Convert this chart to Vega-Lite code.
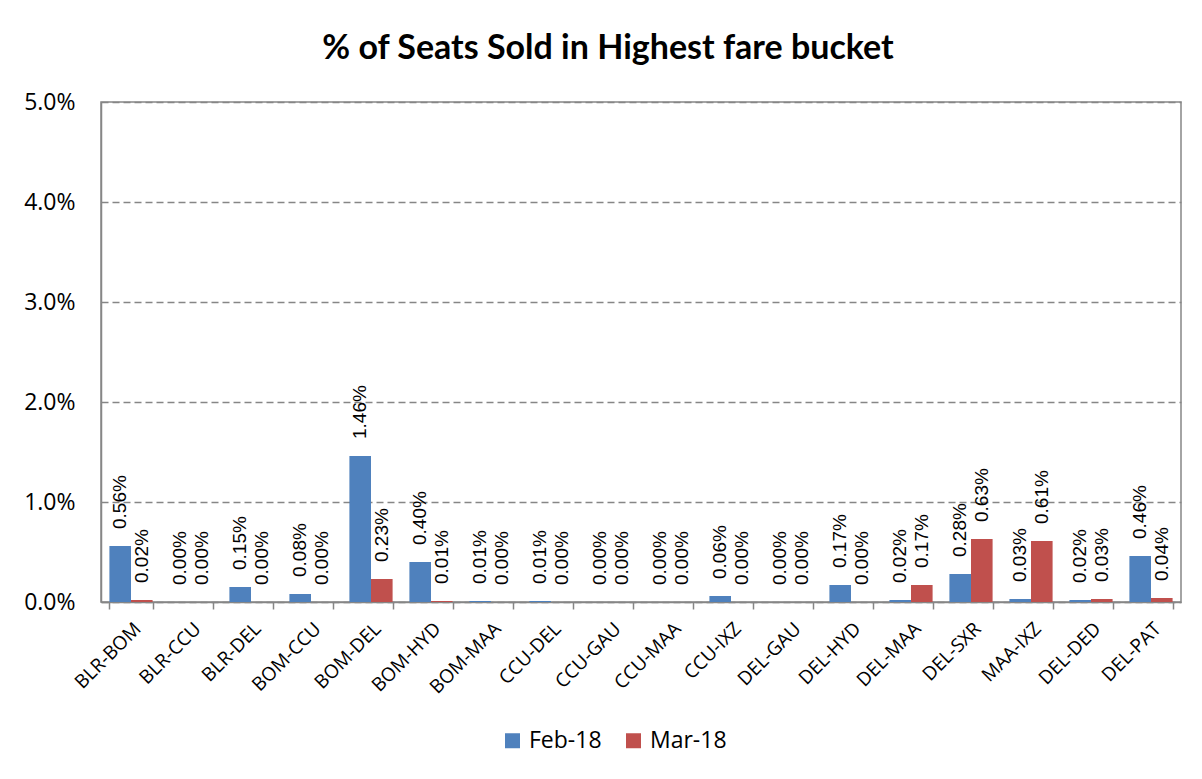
{
  "$schema": "https://vega.github.io/schema/vega-lite/v6.json",
  "autosize": {"type": "none"},
  "width": 1080,
  "height": 500,
  "padding": {"left": 101, "top": 102, "right": 21, "bottom": 177},
  "background": "white",
  "title": {
    "text": "% of Seats Sold in Highest fare bucket",
    "font": "Lato",
    "fontSize": 34,
    "fontWeight": "bold",
    "color": "#000000",
    "anchor": "middle",
    "dx": -33,
    "offset": 25
  },
  "data": {
    "values": [
      {"route": "BLR-BOM", "month": "Feb-18", "pct": 0.0056},
      {"route": "BLR-BOM", "month": "Mar-18", "pct": 0.0002},
      {"route": "BLR-CCU", "month": "Feb-18", "pct": 0.0},
      {"route": "BLR-CCU", "month": "Mar-18", "pct": 0.0},
      {"route": "BLR-DEL", "month": "Feb-18", "pct": 0.0015},
      {"route": "BLR-DEL", "month": "Mar-18", "pct": 0.0},
      {"route": "BOM-CCU", "month": "Feb-18", "pct": 0.0008},
      {"route": "BOM-CCU", "month": "Mar-18", "pct": 0.0},
      {"route": "BOM-DEL", "month": "Feb-18", "pct": 0.0146},
      {"route": "BOM-DEL", "month": "Mar-18", "pct": 0.0023},
      {"route": "BOM-HYD", "month": "Feb-18", "pct": 0.0040},
      {"route": "BOM-HYD", "month": "Mar-18", "pct": 0.0001},
      {"route": "BOM-MAA", "month": "Feb-18", "pct": 0.0001},
      {"route": "BOM-MAA", "month": "Mar-18", "pct": 0.0},
      {"route": "CCU-DEL", "month": "Feb-18", "pct": 0.0001},
      {"route": "CCU-DEL", "month": "Mar-18", "pct": 0.0},
      {"route": "CCU-GAU", "month": "Feb-18", "pct": 0.0},
      {"route": "CCU-GAU", "month": "Mar-18", "pct": 0.0},
      {"route": "CCU-MAA", "month": "Feb-18", "pct": 0.0},
      {"route": "CCU-MAA", "month": "Mar-18", "pct": 0.0},
      {"route": "CCU-IXZ", "month": "Feb-18", "pct": 0.0006},
      {"route": "CCU-IXZ", "month": "Mar-18", "pct": 0.0},
      {"route": "DEL-GAU", "month": "Feb-18", "pct": 0.0},
      {"route": "DEL-GAU", "month": "Mar-18", "pct": 0.0},
      {"route": "DEL-HYD", "month": "Feb-18", "pct": 0.0017},
      {"route": "DEL-HYD", "month": "Mar-18", "pct": 0.0},
      {"route": "DEL-MAA", "month": "Feb-18", "pct": 0.0002},
      {"route": "DEL-MAA", "month": "Mar-18", "pct": 0.0017},
      {"route": "DEL-SXR", "month": "Feb-18", "pct": 0.0028},
      {"route": "DEL-SXR", "month": "Mar-18", "pct": 0.0063},
      {"route": "MAA-IXZ", "month": "Feb-18", "pct": 0.0003},
      {"route": "MAA-IXZ", "month": "Mar-18", "pct": 0.0061},
      {"route": "DEL-DED", "month": "Feb-18", "pct": 0.0002},
      {"route": "DEL-DED", "month": "Mar-18", "pct": 0.0003},
      {"route": "DEL-PAT", "month": "Feb-18", "pct": 0.0046},
      {"route": "DEL-PAT", "month": "Mar-18", "pct": 0.0004}
    ]
  },
  "encoding": {
    "x": {
      "field": "route",
      "type": "nominal",
      "sort": null,
      "scale": {"paddingInner": 0.28, "paddingOuter": 0.14},
      "axis": {
        "title": null,
        "labelAngle": -45,
        "labelAlign": "right",
        "labelBaseline": "top",
        "labelPadding": 10,
        "labelFont": "Open Sans",
        "labelFontSize": 19,
        "labelColor": "#000000",
        "tickBand": "extent",
        "tickSize": 7,
        "tickColor": "#868686",
        "tickWidth": 1.5,
        "domainColor": "#868686",
        "domainWidth": 1.5,
        "grid": false
      }
    },
    "xOffset": {
      "field": "month",
      "type": "nominal",
      "sort": ["Feb-18", "Mar-18"],
      "scale": {"paddingInner": 0, "paddingOuter": 0}
    },
    "y": {
      "field": "pct",
      "type": "quantitative",
      "scale": {"domain": [0, 0.05], "nice": false},
      "axis": {
        "title": null,
        "format": ".1%",
        "values": [0, 0.01, 0.02, 0.03, 0.04, 0.05],
        "labelFont": "Open Sans",
        "labelFontSize": 23,
        "labelColor": "#000000",
        "labelPadding": 26,
        "ticks": false,
        "tickSize": 0,
        "domainColor": "#868686",
        "domainWidth": 1.5,
        "grid": true,
        "gridColor": "#868686",
        "gridWidth": 1.3,
        "gridDash": [7, 4]
      }
    }
  },
  "layer": [
    {
      "mark": {"type": "bar"},
      "encoding": {
        "color": {
          "field": "month",
          "type": "nominal",
          "sort": ["Feb-18", "Mar-18"],
          "scale": {"domain": ["Feb-18", "Mar-18"], "range": ["#4F81BD", "#C0504D"]},
          "legend": {
            "title": null,
            "orient": "none",
            "direction": "horizontal",
            "legendX": 400,
            "legendY": 627,
            "symbolType": "square",
            "symbolSize": 225,
            "symbolStrokeWidth": 0,
            "labelFont": "Open Sans",
            "labelFontSize": 23,
            "labelColor": "#000000",
            "labelOffset": 5,
            "columnPadding": 20
          }
        }
      }
    },
    {
      "mark": {
        "type": "text",
        "angle": -90,
        "align": "left",
        "baseline": "middle",
        "dx": 17,
        "font": "Liberation Sans",
        "fontSize": 19,
        "color": "#000000"
      },
      "encoding": {
        "text": {"field": "pct", "type": "quantitative", "format": ".2%"}
      }
    }
  ],
  "config": {
    "view": {"stroke": "#868686", "strokeWidth": 1.5}
  }
}
